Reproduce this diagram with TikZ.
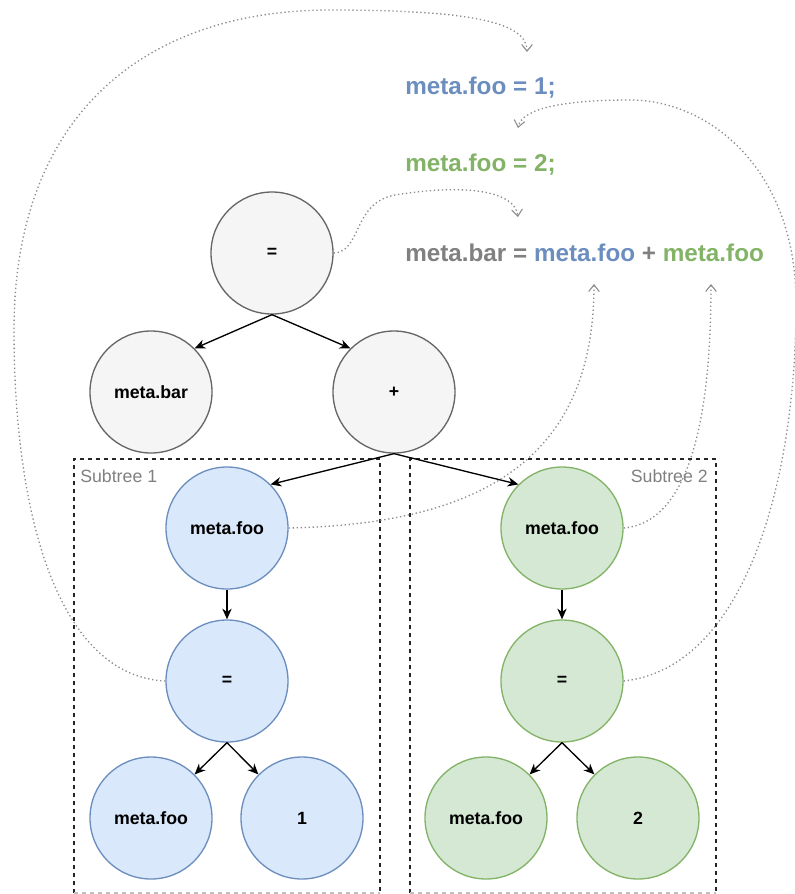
\documentclass[tikz,border=0pt]{standalone}
\usepackage{fontspec}
\setmainfont{Liberation Sans}
\usetikzlibrary{arrows.meta}

\definecolor{greyfill}{HTML}{F5F5F5}
\definecolor{greyline}{HTML}{666666}
\definecolor{bluefill}{HTML}{DAE8FC}
\definecolor{blueline}{HTML}{6C8EBF}
\definecolor{greenfill}{HTML}{D5E8D4}
\definecolor{greenline}{HTML}{82B366}
\definecolor{codegrey}{HTML}{808080}
\definecolor{linkgrey}{HTML}{8C8C8C}

\begin{document}
\begin{tikzpicture}[x=0.75pt,y=-0.75pt,
  ast/.style={circle, minimum size=91.5pt, inner sep=0pt, line width=1pt,
    font=\fontsize{13.3}{16}\selectfont\bfseries},
  greynode/.style={ast, fill=greyfill, draw=greyline},
  bluenode/.style={ast, fill=bluefill, draw=blueline},
  greennode/.style={ast, fill=greenfill, draw=greenline},
  subtree/.style={draw=black!85, dashed, line width=0.8pt},
  boxlabel/.style={text=codegrey, font=\fontsize{13.3}{16}\selectfont, inner sep=0pt},
  codeline/.style={font=\fontsize{18.2}{22}\selectfont\bfseries, inner sep=0pt, anchor=base west},
  edge/.style={-{Stealth[length=8pt,width=7pt,inset=2.5pt]}, line width=1pt, black},
  link/.style={draw=linkgrey, dotted, line width=1pt,
    -{Straight Barb[length=5pt,width=8pt,line width=0.8pt]}}
]
\useasboundingbox (0,0) rectangle (795,894);

% subtree frames
\draw[subtree] (74,893) -- (74,459) -- (380,459) -- (380,893);
\draw[subtree] (410,893) -- (410,459) -- (716,459) -- (716,893);
\draw[subtree, draw=black!25] (74,893) -- (380,893);
\draw[subtree, draw=black!25] (410,893) -- (716,893);
\node[boxlabel, anchor=base west] (lbl1) at (80,482) {Subtree 1};
\node[boxlabel, anchor=base east] (lbl2) at (708,482) {Subtree 2};

% syntax tree
\node[greynode] (assign) at (272,253) {=};
\node[greynode] (bar) at (151,392) {meta.bar};
\node[greynode] (plus) at (394,392) {+};

\node[bluenode] (fooA) at (227,528) {meta.foo};
\node[bluenode] (eqA) at (227,681) {=};
\node[bluenode] (lhsA) at (151,818) {meta.foo};
\node[bluenode] (oneA) at (302,818) {1};

\node[greennode] (fooB) at (562,528) {meta.foo};
\node[greennode] (eqB) at (562,681) {=};
\node[greennode] (lhsB) at (486,818) {meta.foo};
\node[greennode] (twoB) at (638,818) {2};

\draw[edge] (assign.south) -- (bar.north east);
\draw[edge] (assign.south) -- (plus.north west);
\draw[edge] (plus.south) -- (fooA.north east);
\draw[edge] (plus.south) -- (fooB.north west);
\draw[edge] (fooA.south) -- (eqA.north);
\draw[edge] (eqA.south) -- (lhsA.north east);
\draw[edge] (eqA.south) -- (oneA.north west);
\draw[edge] (fooB.south) -- (eqB.north);
\draw[edge] (eqB.south) -- (lhsB.north east);
\draw[edge] (eqB.south) -- (twoB.north west);

% generated statements
\node[codeline, text=blueline] (stmt1) at (405,94) {meta.foo = 1;};
\node[codeline, text=greenline] (stmt2) at (405,171) {meta.foo = 2;};
\node[codeline] (stmt3) at (405,261)
  {\textcolor{codegrey}{meta.bar =} \textcolor{blueline}{meta.foo} \textcolor{codegrey}{+} \textcolor{greenline}{meta.foo}};

\coordinate (in1) at (527,52);
\coordinate (in2) at (518,128);
\coordinate (in3) at (518,217);
\coordinate (in4) at (594,284);
\coordinate (in5) at (711,284);

% links from tree nodes to statements
\draw[link] (eqA.west) .. controls (60,676) and (14,520) .. (14,330)
  .. controls (14,110) and (150,10) .. (330,10)
  .. controls (470,10) and (527,22) .. (in1);
\draw[link] (eqB.east) .. controls (745,668) and (797,480) .. (796,300)
  .. controls (795,170) and (710,100) .. (630,100)
  .. controls (565,100) and (522,108) .. (in2);
\draw[link] (assign.east) .. controls (362,252) and (352,203) .. (395,195)
  .. controls (470,183) and (515,192) .. (in3);
\draw[link] (fooA.east) .. controls (480,524) and (594,460) .. (in4);
\draw[link] (fooB.east) .. controls (695,522) and (711,400) .. (in5);
\end{tikzpicture}
\end{document}
